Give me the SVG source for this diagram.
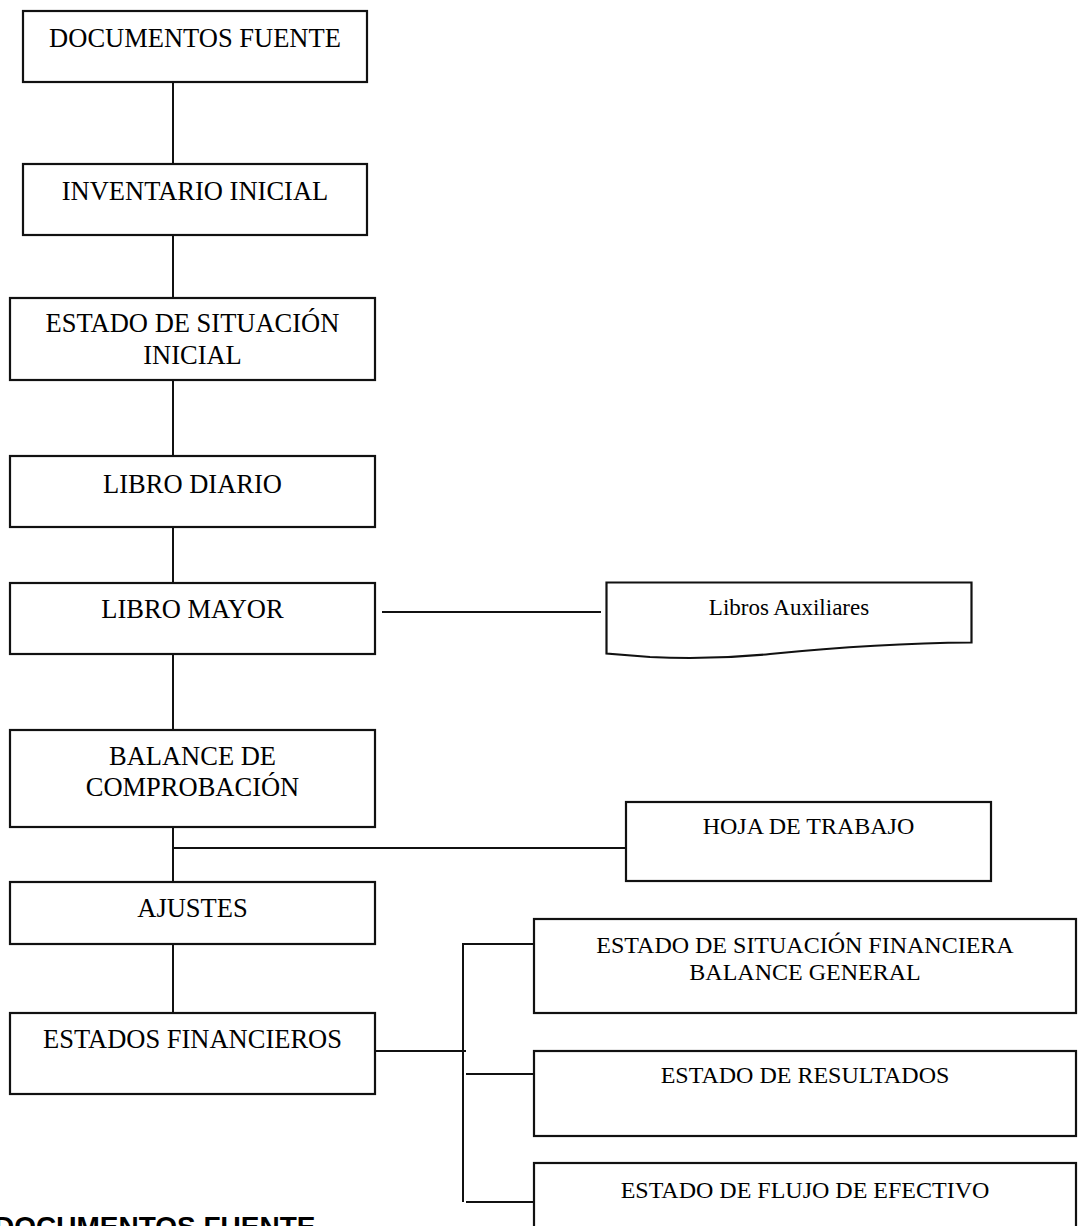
<svg xmlns="http://www.w3.org/2000/svg" width="1080" height="1226" viewBox="0 0 1080 1226">
<style>
.box{fill:#fff;stroke:#111;stroke-width:2.2}
.t{font-family:"Liberation Serif","Times New Roman",serif;font-size:26.5px;fill:#000;text-anchor:middle}
.tr{font-family:"Liberation Serif","Times New Roman",serif;font-size:24px;fill:#000;text-anchor:middle}
.ts{font-family:"Liberation Serif","Times New Roman",serif;font-size:23px;fill:#000;text-anchor:middle}
.c{stroke:#111;stroke-width:2;fill:none}
</style>
<rect width="1080" height="1226" fill="#fff"/>
<g id="connectors">
<line class="c" x1="173" y1="82" x2="173" y2="164"/>
<line class="c" x1="173" y1="235" x2="173" y2="298"/>
<line class="c" x1="173" y1="380" x2="173" y2="456"/>
<line class="c" x1="173" y1="527" x2="173" y2="583"/>
<line class="c" x1="173" y1="654" x2="173" y2="730"/>
<line class="c" x1="382" y1="612" x2="601" y2="612"/>
<line class="c" x1="173" y1="827" x2="173" y2="882"/>
<line class="c" x1="173" y1="848" x2="626" y2="848"/>
<line class="c" x1="173" y1="944" x2="173" y2="1013"/>
<line class="c" x1="375" y1="1051" x2="466" y2="1051"/>
<polyline class="c" points="533,944 463,944 463,1202"/>
<line class="c" x1="466" y1="1074" x2="533" y2="1074"/>
<line class="c" x1="466" y1="1202" x2="533" y2="1202"/>
</g>
<g id="documentos-fuente">
<rect class="box" x="23" y="11" width="344" height="71"/>
<text class="t" x="195" y="47">DOCUMENTOS FUENTE</text>
</g>
<g id="inventario-inicial">
<rect class="box" x="23" y="164" width="344" height="71"/>
<text class="t" x="195" y="200">INVENTARIO INICIAL</text>
</g>
<g id="estado-situacion-inicial">
<rect class="box" x="10" y="298" width="365" height="82"/>
<text class="t" x="192.5" y="332">ESTADO DE SITUACIÓN</text>
<text class="t" x="192.5" y="364">INICIAL</text>
</g>
<g id="libro-diario">
<rect class="box" x="10" y="456" width="365" height="71"/>
<text class="t" x="192.5" y="493">LIBRO DIARIO</text>
</g>
<g id="libro-mayor">
<rect class="box" x="10" y="583" width="365" height="71"/>
<text class="t" x="192.5" y="618">LIBRO MAYOR</text>
</g>
<g id="libros-auxiliares">
<path class="box" d="M606.5,582.5 H971.5 V642.5 C900,643 830,648 770,654 C730,658 690,659 650,657 L606.5,653.5 Z"/>
<text class="ts" x="789" y="615">Libros Auxiliares</text>
</g>
<g id="balance-comprobacion">
<rect class="box" x="10" y="730" width="365" height="97"/>
<text class="t" x="192.5" y="765">BALANCE DE</text>
<text class="t" x="192.5" y="796">COMPROBACIÓN</text>
</g>
<g id="hoja-trabajo">
<rect class="box" x="626" y="802" width="365" height="79"/>
<text class="tr" x="808.5" y="834">HOJA DE TRABAJO</text>
</g>
<g id="ajustes">
<rect class="box" x="10" y="882" width="365" height="62"/>
<text class="t" x="192.5" y="917">AJUSTES</text>
</g>
<g id="estados-financieros">
<rect class="box" x="10" y="1013" width="365" height="81"/>
<text class="t" x="192.5" y="1048">ESTADOS FINANCIEROS</text>
</g>
<g id="estado-situacion-financiera">
<rect class="box" x="534" y="919" width="542" height="94"/>
<text class="tr" x="805" y="953">ESTADO DE SITUACIÓN FINANCIERA</text>
<text class="tr" x="805" y="980">BALANCE GENERAL</text>
</g>
<g id="estado-resultados">
<rect class="box" x="534" y="1051" width="542" height="85"/>
<text class="tr" x="805" y="1083">ESTADO DE RESULTADOS</text>
</g>
<g id="estado-flujo-efectivo">
<rect class="box" x="534" y="1163" width="542" height="80"/>
<text class="tr" x="805" y="1198">ESTADO DE FLUJO DE EFECTIVO</text>
</g>
<text x="-6" y="1236" font-family="'Liberation Sans',Arial,sans-serif" font-weight="bold" font-size="28" fill="#000">DOCUMENTOS FUENTE</text>
</svg>
